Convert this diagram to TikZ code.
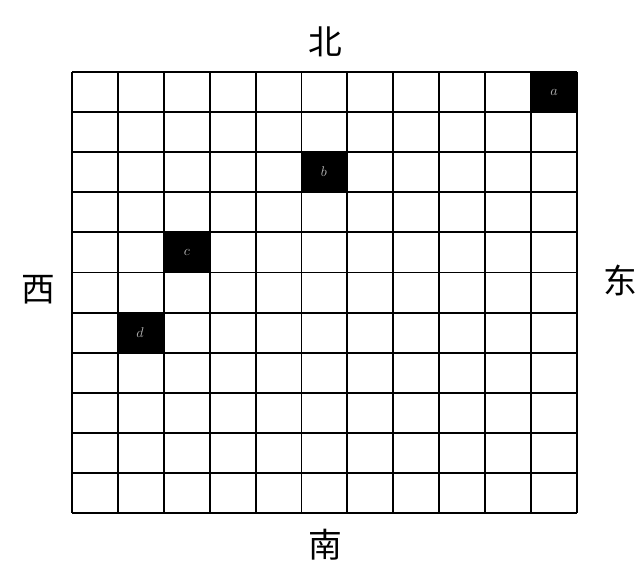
\documentclass[tikz,border=0pt]{standalone}
\usepackage{fontspec}
\newfontfamily\cjk{Noto Sans CJK SC}
\usetikzlibrary{positioning}

\begin{document}
\begin{tikzpicture}[x=0.025cm,y=-0.025cm,line width=1.4pt,
    dir/.style={font=\cjk\fontsize{24}{24}\selectfont},
    cellname/.style={text=gray!60,font=\normalsize}]
    \useasboundingbox (0,0) rectangle (643,567);
    % black cells
    \fill (531,72) rectangle (577,112);
    \fill (301,152) rectangle (347,192);
    \fill (164,233) rectangle (210,272);
    \fill (117,313) rectangle (164,353);
    \node[cellname] (a) at (554,92) {$a$};
    \node[cellname] (b) at (324,172) {$b$};
    \node[cellname] (c) at (187,252) {$c$};
    \node[cellname] (d) at (140,333) {$d$};
    % grid
    \foreach \i in {0,...,11}
        \draw (72+45.9*\i,72)--(72+45.9*\i,513);
    \foreach \j in {0,...,11}
        \draw (72,72+40.1*\j)--(577,72+40.1*\j);
    \node[dir] (N) at (325,42) {北};
    \node[dir] (S) at (325,545) {南};
    \node[dir] (W) at (38,290) {西};
    \node[dir] (E) at (620,280) {东};
\end{tikzpicture}
\end{document}
